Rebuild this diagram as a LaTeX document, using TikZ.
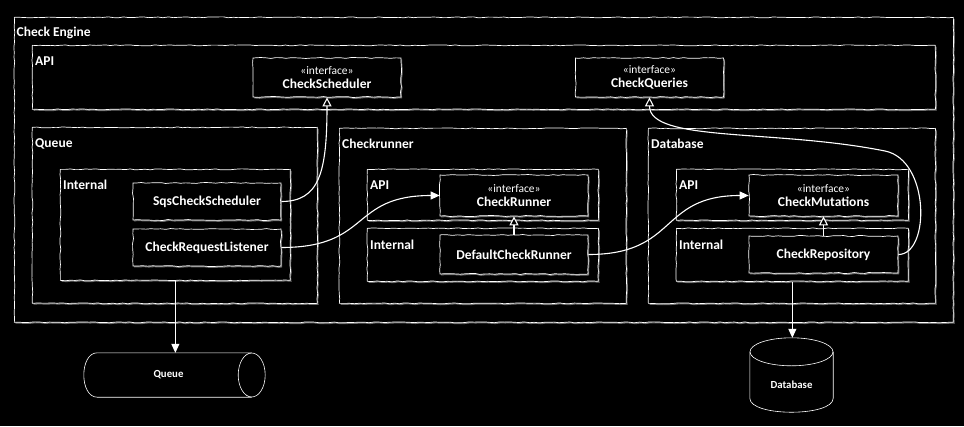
\documentclass[tikz,border=0pt]{standalone}
\usepackage{fontspec}
\setmainfont{Carlito}
\usetikzlibrary{decorations.pathmorphing, arrows.meta, shadows}

\begin{document}
\pgfmathsetseed{7}
\begin{tikzpicture}[x=1pt, y=-1pt, >={Triangle[length=9pt, width=8pt]},
    rough/.style={decorate, decoration={random steps, segment length=5pt, amplitude=0.5pt}},
    boxline/.style={draw=white!85, line width=0.7pt, fill=black, rough,
        drop shadow={shadow xshift=1.2pt, shadow yshift=-1.4pt, fill=gray!80, opacity=0.7}},
    pkg/.style={boxline, anchor=north west, inner sep=0pt},
    pkgname/.style={anchor=west, inner sep=0pt, text=white, font=\bfseries\fontsize{13.5}{15}\selectfont},
    cls/.style={boxline, minimum width=148pt, align=center, inner sep=0pt, text=white},
    clsname/.style={font=\bfseries\fontsize{13.5}{15}\selectfont},
    store/.style={inner sep=0pt},
    storeline/.style={draw=white!85, line width=0.6pt},
    storename/.style={inner sep=0pt, text=white, font=\bfseries\fontsize{10.8}{12}\selectfont},
    link/.style={white, line width=1.1pt, ->},
    realize/.style={white, line width=1.1pt, -{Triangle[open, length=9pt, width=9pt, fill=black]}}]

    \fill[black] (0,0) rectangle (964,426);
    \useasboundingbox (0,0) rectangle (964,426);

    % packages
    \node[pkg, minimum width=939pt, minimum height=305pt] (engine) at (14,17) {};
    \node[pkgname] (enginelbl) at ([shift={(2.5,16)}]engine.north west) {Check Engine};

    \node[pkg, minimum width=903pt, minimum height=64pt] (engineapi) at (32,45) {};
    \node[pkgname] (engineapilbl) at ([shift={(3,16)}]engineapi.north west) {API};

    \node[pkg, minimum width=285pt, minimum height=176pt] (queuepkg) at (32,127) {};
    \node[pkgname] (queuelbl) at ([shift={(3,17)}]queuepkg.north west) {Queue};
    \node[pkg, minimum width=230pt, minimum height=111pt] (queueinternal) at (60,169) {};
    \node[pkgname] (queueinternallbl) at ([shift={(3,16)}]queueinternal.north west) {Internal};

    \node[pkg, minimum width=287pt, minimum height=175pt] (runnerpkg) at (339,128) {};
    \node[pkgname] (runnerlbl) at ([shift={(3,16)}]runnerpkg.north west) {Checkrunner};
    \node[pkg, minimum width=231pt, minimum height=51pt] (runnerapi) at (367,169) {};
    \node[pkgname] (runnerapilbl) at ([shift={(3,16)}]runnerapi.north west) {API};
    \node[pkg, minimum width=231pt, minimum height=53pt] (runnerinternal) at (367,228) {};
    \node[pkgname] (runnerinternallbl) at ([shift={(3,17)}]runnerinternal.north west) {Internal};

    \node[pkg, minimum width=287pt, minimum height=175pt] (dbpkg) at (648,128) {};
    \node[pkgname] (dblbl) at ([shift={(3,16)}]dbpkg.north west) {Database};
    \node[pkg, minimum width=232pt, minimum height=51pt] (dbapi) at (676,169) {};
    \node[pkgname] (dbapilbl) at ([shift={(3,16)}]dbapi.north west) {API};
    \node[pkg, minimum width=232pt, minimum height=53pt] (dbinternal) at (676,228) {};
    \node[pkgname] (dbinternallbl) at ([shift={(3,17)}]dbinternal.north west) {Internal};

    % classes
    \node[cls, minimum height=39pt] (scheduler) at (327,77.5)
        {{\fontsize{11.5}{13}\selectfont «interface»}\\[2pt]{\bfseries\fontsize{13.5}{15}\selectfont CheckScheduler}};
    \node[cls, minimum height=39pt] (queries) at (649.5,77.5)
        {{\fontsize{11.5}{13}\selectfont «interface»}\\[2pt]{\bfseries\fontsize{13.5}{15}\selectfont CheckQueries}};
    \node[cls, clsname, minimum height=37pt] (sqsscheduler) at (207,201.5) {SqsCheckScheduler};
    \node[cls, clsname, minimum height=37pt] (listener) at (207,247.5) {CheckRequestListener};
    \node[cls, minimum height=41pt] (checkrunner) at (514,195.5)
        {{\fontsize{11.5}{13}\selectfont «interface»}\\[2pt]{\bfseries\fontsize{13.5}{15}\selectfont CheckRunner}};
    \node[cls, clsname, minimum height=39pt] (defaultrunner) at (514,254.5) {DefaultCheckRunner};
    \node[cls, minimum height=41pt, minimum width=149pt] (mutations) at (823.5,195.5)
        {{\fontsize{11.5}{13}\selectfont «interface»}\\[2pt]{\bfseries\fontsize{13.5}{15}\selectfont CheckMutations}};
    \node[cls, clsname, minimum height=37pt, minimum width=149pt] (repository) at (823.5,254.5) {CheckRepository};

    % stores
    \node[store, minimum width=181pt, minimum height=44pt] (queuestore) at (174.5,375) {};
    \draw[storeline] ([xshift=-13.5pt]queuestore.north east) -- ([xshift=13.5pt]queuestore.north west)
        .. controls +(-18,0) and +(-18,0) .. ([xshift=13.5pt]queuestore.south west)
        -- ([xshift=-13.5pt]queuestore.south east);
    \draw[storeline] ([xshift=-13.5pt]queuestore.east) ellipse [x radius=13.5, y radius=22];
    \node[storename] (queuestorelbl) at ([xshift=-6pt]queuestore.center) {Queue};

    \node[store, minimum width=83pt, minimum height=74pt] (dbstore) at (791.5,375) {};
    \draw[storeline] ([yshift=-14pt]dbstore.north west) -- ([yshift=14pt]dbstore.south west)
        .. controls +(0,18.7) and +(0,18.7) .. ([yshift=14pt]dbstore.south east)
        -- ([yshift=-14pt]dbstore.north east);
    \draw[storeline] ([yshift=-14pt]dbstore.north) ellipse [x radius=41.5, y radius=14];
    \node[storename] (dbstorelbl) at ([yshift=-10pt]dbstore.center) {Database};

    % connectors
    \draw[realize] (sqsscheduler.east) .. controls +(38,0) and +(0,75) .. (scheduler.south);
    \draw[link] (listener.east) .. controls +(90,0) and +(-90,0) .. (checkrunner.west);
    \draw[link] (defaultrunner.east) .. controls +(90,0) and +(-90,0) .. (mutations.west);
    \draw[realize] (defaultrunner.north) -- (checkrunner.south);
    \draw[realize] (repository.north) -- (mutations.south);
    \coordinate (repobend) at (885,151);
    \draw[realize] (repository.east) .. controls +(32,0) and +(45,9) .. (repobend)
        .. controls +(-110,-22) and +(0,45) .. (queries.south);
    \draw[link] (queueinternal.south) -- (queueinternal.south |- queuestore.north);
    \draw[link] (dbinternal.south) -- (dbinternal.south |- dbstore.north);
\end{tikzpicture}
\end{document}
